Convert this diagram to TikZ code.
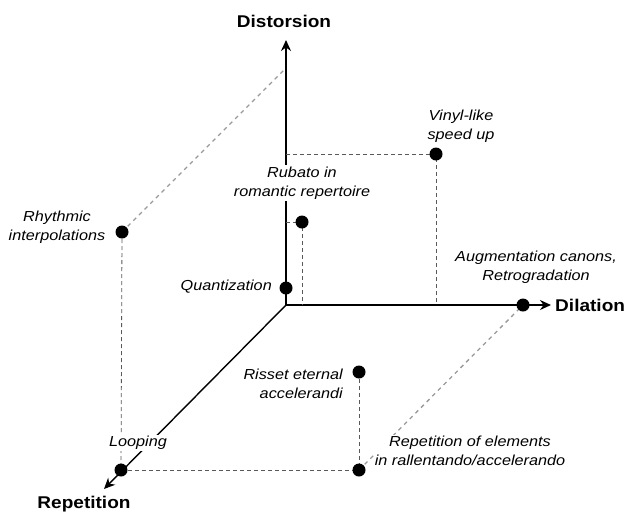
\documentclass[tikz,border=0pt]{standalone}
\usepackage{fontspec}
\setmainfont{Liberation Sans}[FakeStretch=1.12]
\usetikzlibrary{arrows.meta}
\pgfdeclarelayer{bg}
\pgfsetlayers{bg,main}
\begin{document}
\begin{tikzpicture}[x=1pt,y=-1pt,
  dot/.style={circle,fill=black,inner sep=0pt,minimum size=13pt},
  axis/.style={line width=1.4pt,-{Stealth[length=11pt,width=10pt]}},
  guide/.style={draw=black!65,line width=0.8pt,dash pattern=on 4pt off 3pt},
  diag/.style={draw=black!40,line width=1.3pt,dash pattern=on 4pt off 4pt},
  lbl/.style={font=\fontsize{14.5}{19.5}\selectfont\itshape,align=center,fill=white,inner sep=1pt},
  axlbl/.style={font=\fontsize{17}{20}\selectfont\bfseries,inner sep=0pt}]
\useasboundingbox (0,0) rectangle (628,515);
% axis points
\coordinate (O) at (286,305);
\coordinate (ztop) at (286,40);
\coordinate (xend) at (551,305);
\coordinate (rend) at (104,489);
\coordinate (zc) at (286,68);
\coordinate (vz) at (286,154);
\coordinate (vx) at (436,305);
\coordinate (rz) at (286,222);
\coordinate (rx) at (302,305);
% dots
\node[dot] (vinyl) at (436,154) {};
\node[dot] (rubato) at (302,222) {};
\node[dot] (rhythm) at (122,232) {};
\node[dot] (quant) at (286,288) {};
\node[dot] (aug) at (523,305) {};
\node[dot] (risset) at (359,372) {};
\node[dot] (repel) at (359,470) {};
\node[dot] (loop) at (121,470) {};
% lines
\begin{pgfonlayer}{bg}
\draw[axis] (O) -- (ztop);
\draw[axis] (O) -- (xend);
\draw[axis] (O) -- (rend);
\draw[diag] (rhythm.center) -- (zc);
\draw[guide] (rhythm.center) -- (loop.center);
\draw[guide] (loop.center) -- (repel.center);
\draw[guide] (risset.center) -- (repel.center);
\draw[diag] (repel.center) -- (aug.center);
\draw[guide] (vz) -- (vinyl.center) -- (vx);
\draw[guide] (rz) -- (rubato.center) -- (rx);
\end{pgfonlayer}
% labels
\node[lbl] (vinylL) at (461,126) {Vinyl-like\\speed up};
\node[lbl] (rubatoL) at (302,183) {Rubato in\\romantic repertoire};
\node[lbl] (rhythmL) at (57,227) {Rhythmic\\interpolations};
\node[lbl] (augL) at (536,267) {Augmentation canons,\\Retrogradation};
\node[lbl,anchor=east] (quantL) at (273,287) {Quantization};
\node[lbl,anchor=east,align=right] (rissetL) at (344,384) {Risset eternal\\accelerandi};
\node[lbl] (loopL) at (138,443) {Looping};
\node[lbl] (repelL) at (470,451) {Repetition of elements\\in rallentando/accelerando};
\node[axlbl] (distL) at (284,21) {Distorsion};
\node[axlbl,anchor=west] (dilL) at (555,305) {Dilation};
\node[axlbl] (repL) at (84,504) {Repetition};
\end{tikzpicture}
\end{document}
